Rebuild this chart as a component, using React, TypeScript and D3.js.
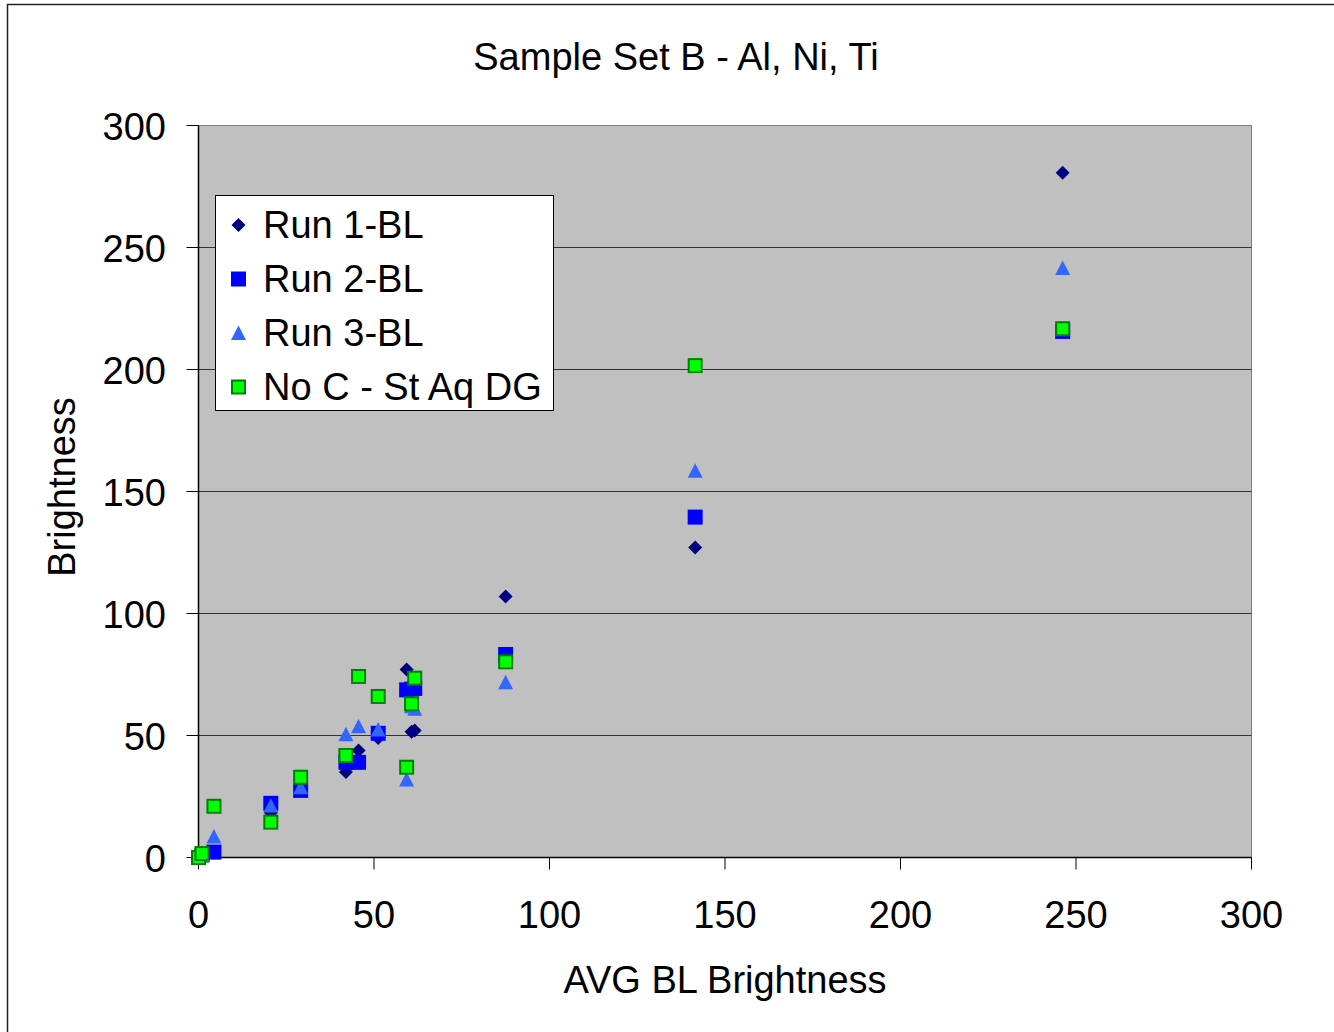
import React from "react";
import * as d3 from "d3";

const xValues = [0, 1.0, 4.4, 20.6, 29.1, 42.0, 45.6, 51.2, 59.3, 60.7, 61.6, 87.5, 141.5, 246.2];
const run1 = [0, 1.0, 2.0, 18.3, 29.0, 35.0, 43.9, 49.0, 77.0, 51.5, 52.0, 107.0, 127.0, 280.6];
const run2 = [0, 1.0, 2.2, 22.2, 27.5, 39.0, 39.0, 50.9, 68.7, 69.0, 69.3, 83.2, 139.5, 215.6];
const run3 = [0, 1.0, 8.6, 21.3, 28.8, 50.5, 53.8, 52.5, 32.0, 62.0, 61.0, 71.8, 158.5, 241.6];
const noC = [0, 1.6, 21.0, 14.5, 32.9, 41.8, 74.2, 66.0, 37.0, 63.0, 73.5, 80.2, 201.6, 216.7];

const seriesNames = ["Run 1-BL", "Run 2-BL", "Run 3-BL", "No C - St Aq DG"];
const seriesData = [run1, run2, run3, noC];
const xTicks = [0, 50, 100, 150, 200, 250, 300];
const yTicks = [0, 50, 100, 150, 200, 250, 300];

const FONT = "'Liberation Sans', Arial, sans-serif";
const FS = 38;

function Marker({ kind, cx, cy }: { kind: number; cx: number; cy: number }) {
  const s = 7;
  if (kind === 0) {
    return (
      <path
        d={`M${cx},${cy - s} L${cx + s},${cy} L${cx},${cy + s} L${cx - s},${cy} Z`}
        fill="#000080"
      />
    );
  }
  if (kind === 1) {
    return <rect x={cx - 7.5} y={cy - 7.5} width={15} height={15} fill="#0000FF" />;
  }
  if (kind === 2) {
    return (
      <path
        d={`M${cx},${cy - 7.5} L${cx + 7.5},${cy + 7} L${cx - 7.5},${cy + 7} Z`}
        fill="#3366FF"
      />
    );
  }
  return (
    <rect
      x={cx - 6.5}
      y={cy - 6.5}
      width={13}
      height={13}
      fill="#00FF00"
      stroke="#008000"
      strokeWidth={2}
    />
  );
}

export default function App() {
  const x = d3.scaleLinear().domain([0, 300]).range([198.5, 1251.5]);
  const y = d3.scaleLinear().domain([0, 300]).range([857.5, 125.5]);
  const [x0, x1] = x.range();
  const [y0, y1] = y.range();

  return (
    <svg
      width={1334}
      height={1032}
      style={{ position: "absolute", left: 0, top: 0, background: "#fff" }}
      fontFamily={FONT}
    >
      <rect x={7.5} y={4.5} width={1400} height={1100} fill="#fff" stroke="#222" strokeWidth={1.5} />
      <text x={676} y={70} textAnchor="middle" fontSize={FS} fill="#000">
        Sample Set B - Al, Ni, Ti
      </text>

      <rect x={x0} y={y1} width={x1 - x0} height={y0 - y1} fill="#C0C0C0" stroke="#808080" strokeWidth={1} />
      {yTicks.slice(1, -1).map((t) => (
        <line key={"g" + t} x1={x0} x2={x1} y1={y(t)} y2={y(t)} stroke="#333" strokeWidth={1} />
      ))}
      <line x1={x0} x2={x0} y1={y1} y2={y0} stroke="#000" strokeWidth={1.5} />
      <line x1={x0} x2={x1} y1={y0} y2={y0} stroke="#000" strokeWidth={1.5} />
      {yTicks.map((t) => (
        <g key={"yt" + t}>
          <line x1={x0 - 12} x2={x0} y1={y(t)} y2={y(t)} stroke="#000" strokeWidth={1} />
          <text x={166} y={y(t) + 14} textAnchor="end" fontSize={FS} fill="#000">
            {t}
          </text>
        </g>
      ))}
      {xTicks.map((t) => (
        <g key={"xt" + t}>
          <line x1={x(t)} x2={x(t)} y1={y0} y2={y0 + 12} stroke="#000" strokeWidth={1} />
          <text x={x(t)} y={928} textAnchor="middle" fontSize={FS} fill="#000">
            {t}
          </text>
        </g>
      ))}
      <text x={725} y={993} textAnchor="middle" fontSize={FS} fill="#000">
        AVG BL Brightness
      </text>
      <text
        transform={`translate(75,487) rotate(-90)`}
        textAnchor="middle"
        fontSize={FS}
        fill="#000"
      >
        Brightness
      </text>

      {seriesData.map((ser, si) => (
        <g key={"s" + si}>
          {ser.map((v, i) => (
            <Marker key={i} kind={si} cx={x(xValues[i])} cy={y(v)} />
          ))}
        </g>
      ))}

      <rect x={215.5} y={195.5} width={338} height={215} fill="#fff" stroke="#000" strokeWidth={1} />
      {seriesNames.map((name, i) => {
        const cy = 225 + i * 54;
        return (
          <g key={"l" + i}>
            <Marker kind={i} cx={238.5} cy={cy} />
            <text x={263} y={cy + 13} fontSize={FS} fill="#000">
              {name}
            </text>
          </g>
        );
      })}
    </svg>
  );
}
